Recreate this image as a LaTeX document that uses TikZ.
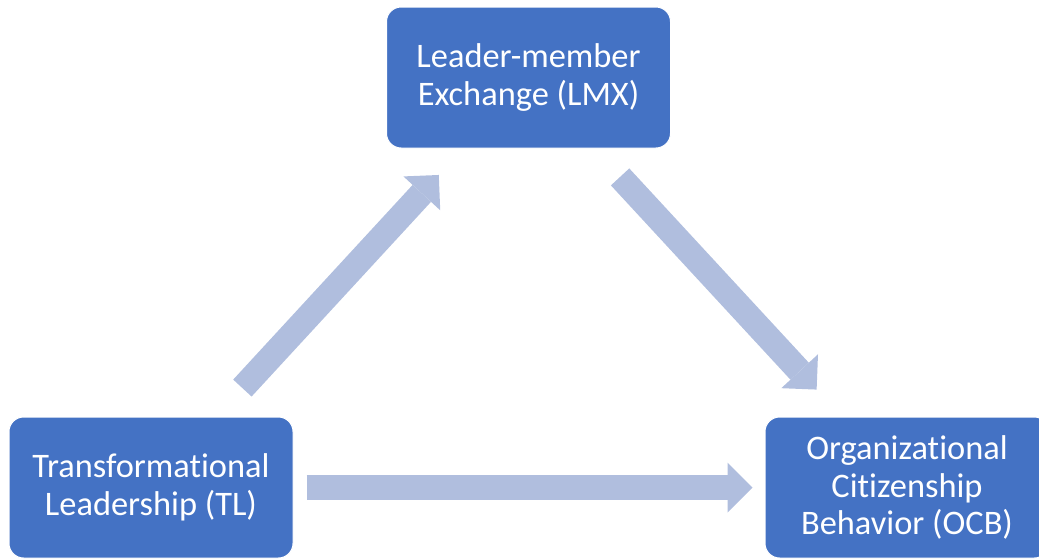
\documentclass[tikz,border=0pt]{standalone}
\usepackage{fontspec}
\setmainfont{Carlito}[Ligatures=NoCommon]
\usetikzlibrary{arrows.meta}
\definecolor{boxblue}{RGB}{68,114,196}
\definecolor{flowblue}{RGB}{176,190,222}
\begin{document}
\begin{tikzpicture}[x=0.75pt,y=-0.75pt,line join=round,
    box/.style={fill=boxblue,draw=white,line width=0.75pt,rounded corners=11pt,
      minimum width=213pt,minimum height=105.75pt,inner sep=0pt,align=center,
      text=white,font=\fontsize{25.8}{28.2}\selectfont},
    flow/.style={draw=flowblue,line width=18.75pt,
      -{Triangle[length=18.75pt,width=37.5pt,line width=0pt]}}]
  \useasboundingbox (0,0) rectangle (1039,558);
  \node[box] (lmx) at (528.5,77.5) {Leader-member\\Exchange (LMX)};
  \node[box] (tl) at (151,487.5) {Transformational\\Leadership (TL)};
  \node[box] (ocb) at (907,487.5) {Organizational\\Citizenship\\Behavior (OCB)};
  \draw[flow,shorten <=29pt,shorten >=27pt] (tl) -- (lmx);
  \draw[flow,shorten <=29pt,shorten >=27.5pt] (lmx) -- (ocb);
  \draw[flow,shorten <=9.75pt,shorten >=9pt] (tl) -- (ocb);
\end{tikzpicture}
\end{document}
